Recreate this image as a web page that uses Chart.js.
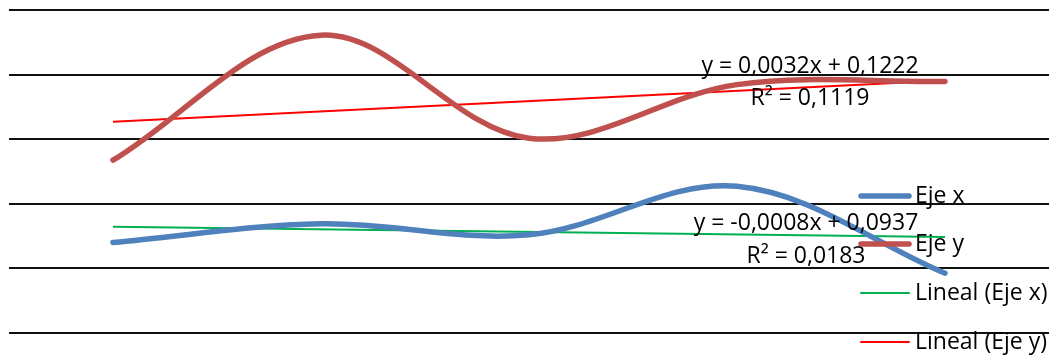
<!DOCTYPE html>
<html>
<head>
<meta charset="utf-8">
<script src="https://cdn.jsdelivr.net/npm/chart.js@4/dist/chart.umd.min.js"></script>
<style>
  html, body { margin: 0; padding: 0; background: #fff; }
  #wrap { width: 1055px; height: 355px; }
</style>
</head>
<body>
<div id="wrap"><canvas id="chart" width="1055" height="355"></canvas></div>
<script>
// data
const categories = ["1", "2", "3", "4", "5"];
const ejeX = [0.0880, 0.0938, 0.0904, 0.1054, 0.0785];
const ejeY = [0.1135, 0.1522, 0.1203, 0.1369, 0.1379];
// trendline ends (from the equations shown)
const linealX = [0.0929, null, null, null, 0.0897];
const linealY = [0.1254, null, null, null, 0.1382];
const eqX = ["y = -0,0008x + 0,0937", "R² = 0,0183"];
const eqY = ["y = 0,0032x + 0,1222", "R² = 0,1119"];
const yTicks = [0.06, 0.08, 0.10, 0.12, 0.14, 0.16];

const FONT = '23px "Open Sans", sans-serif';

// equations + legend drawn over the plot, like excel does
const overlay = {
    id: "overlay",
    afterDraw(chart) {
        const ctx = chart.ctx;
        ctx.save();
        ctx.font = FONT;
        ctx.fillStyle = "#000";
        ctx.textAlign = "center";
        ctx.textBaseline = "alphabetic";
        ctx.fillText(eqY[0], 810, 73);
        ctx.fillText(eqY[1], 810, 105);
        ctx.fillText(eqX[0], 806, 230);
        ctx.fillText(eqX[1], 806, 263);

        // legend
        const rows = [196, 244, 293, 342];
        ctx.textAlign = "left";
        ctx.textBaseline = "middle";
        chart.data.datasets.forEach((ds, i) => {
            const y = rows[i];
            ctx.beginPath();
            ctx.strokeStyle = ds.borderColor;
            ctx.lineWidth = ds.borderWidth;
            ctx.lineCap = "round";
            ctx.moveTo(861, y);
            ctx.lineTo(909, y);
            ctx.stroke();
            ctx.fillText(ds.label, 915, y);
        });
        ctx.restore();
    }
};

new Chart(document.getElementById("chart"), {
    type: "line",
    data: {
        labels: categories,
        datasets: [
            {
                label: "Eje x",
                data: ejeX,
                borderColor: "#4F81BD",
                borderWidth: 5.5,
                borderCapStyle: "round",
                tension: 0.35,
                pointRadius: 0,
            },
            {
                label: "Eje y",
                data: ejeY,
                borderColor: "#C0504D",
                borderWidth: 5.5,
                borderCapStyle: "round",
                tension: 0.35,
                pointRadius: 0,
            },
            {
                label: "Lineal (Eje x)",
                data: linealX,
                borderColor: "#00B050",
                borderWidth: 2,
                spanGaps: true,
                pointRadius: 0,
            },
            {
                label: "Lineal (Eje y)",
                data: linealY,
                borderColor: "#FF0000",
                borderWidth: 2,
                spanGaps: true,
                pointRadius: 0,
            },
        ],
    },
    options: {
        responsive: false,
        animation: false,
        layout: { padding: { left: 9, right: 6, top: 10, bottom: 22 } },
        plugins: {
            legend: { display: false },
            tooltip: { enabled: false },
        },
        scales: {
            x: {
                display: false,
                offset: true,
            },
            y: {
                min: yTicks[0],
                max: yTicks[yTicks.length - 1],
                afterBuildTicks: (axis) => {
                    axis.ticks = yTicks.map((v) => ({ value: v }));
                },
                ticks: { display: false },
                border: { display: false },
                grid: { color: "#111", lineWidth: 2, drawTicks: false },
            },
        },
    },
    plugins: [overlay],
});
</script>
</body>
</html>
